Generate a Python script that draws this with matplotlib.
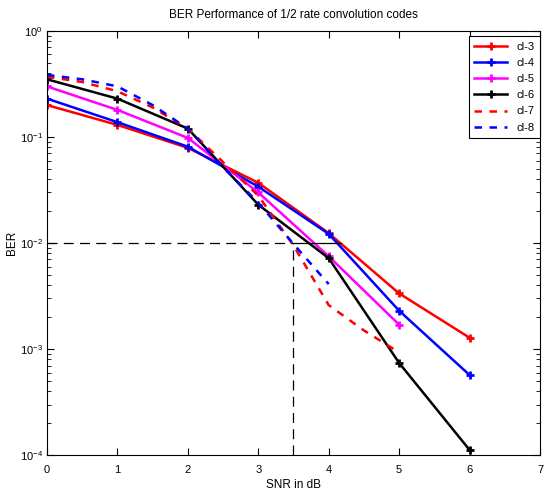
import matplotlib
matplotlib.use("Agg")
import matplotlib.pyplot as plt
from matplotlib.ticker import LogLocator, NullFormatter

plt.rcParams['font.family'] = ['Liberation Sans', 'DejaVu Sans']

snr = [0, 1, 2, 3, 4, 5, 6]
cl3 = [0.20, 0.13, 0.079, 0.037, 0.0124, 0.00335, 0.00128]
cl4 = [0.23, 0.138, 0.081, 0.034, 0.0122, 0.0023, 0.00057]
cl5 = [0.30, 0.18, 0.098, 0.030, 0.0075, 0.0017]
cl6 = [0.35, 0.23, 0.12, 0.023, 0.0072, 0.00074, 0.000112]

snr7 = [0, 0.5, 1, 1.5, 2, 2.5, 3, 3.5, 4, 4.5, 5]
cl7 = [0.37, 0.33, 0.27, 0.19, 0.12, 0.058, 0.028, 0.0095, 0.0026, 0.0015, 0.00093]
snr8 = [0, 0.5, 1, 1.5, 2, 2.5, 3, 3.5, 4]
cl8 = [0.385, 0.35, 0.30, 0.20, 0.12, 0.052, 0.024, 0.0098, 0.0041]

ref_snr = 3.5
ref_ber = 0.01
ref_end = 4.17

fig = plt.figure(figsize=(5.46, 4.91), dpi=100)
ax = fig.add_axes([0.086, 0.073, 0.903, 0.864])

mk = dict(marker='+', markersize=6, markeredgewidth=2, linewidth=1.8)
ax.plot(snr, cl3, color='red', label='cl-3', **mk)
ax.plot(snr, cl4, color='blue', label='cl-4', **mk)
ax.plot(snr[:6], cl5, color='magenta', label='cl-5', **mk)
ax.plot(snr, cl6, color='black', label='cl-6', **mk)
ax.plot(snr7, cl7, color='red', linestyle=(0, (3, 3)), linewidth=1.8, label='cl-7')
ax.plot(snr8, cl8, color='blue', linestyle=(0, (3, 3)), linewidth=1.8, label='cl-8')

ax.plot([0, ref_snr], [ref_ber, ref_ber], color='black', linestyle=(0, (8, 5)), linewidth=0.9)
ax.plot([ref_snr, ref_snr], [1e-4, ref_ber], color='black', linestyle=(0, (8, 5)), linewidth=0.9)
ax.plot([ref_snr, ref_end], [ref_ber, ref_ber], color='black', linewidth=0.9)

ax.set_yscale('log')
ax.set_xlim(0, 7)
ax.set_ylim(1e-4, 1)
ax.set_xticks(range(0, 8))
ax.yaxis.set_major_locator(LogLocator(base=10, numticks=10))
ax.yaxis.set_minor_locator(LogLocator(base=10, subs=range(2, 10), numticks=20))
ax.yaxis.set_minor_formatter(NullFormatter())
ax.tick_params(which='both', direction='in', top=True, right=True, labelsize=8)
ax.tick_params(which='major', length=5)
ax.tick_params(which='minor', length=3)
ax.tick_params(axis='x', pad=7)
ax.tick_params(axis='y', pad=3)

ax.set_title('BER Performance of 1/2 rate convolution codes', fontsize=8.5, pad=9)
ax.set_xlabel('SNR in dB', fontsize=8.5, labelpad=3)
ax.set_ylabel('BER', fontsize=8.5, labelpad=1)

leg = ax.legend(loc='upper right', bbox_to_anchor=(1.0, 0.987), fontsize=8,
                fancybox=False, edgecolor='black', framealpha=1,
                handlelength=3, borderpad=0.5, labelspacing=0.55, borderaxespad=0)
leg.get_frame().set_linewidth(0.8)

fig.savefig('out.png', dpi=100)
